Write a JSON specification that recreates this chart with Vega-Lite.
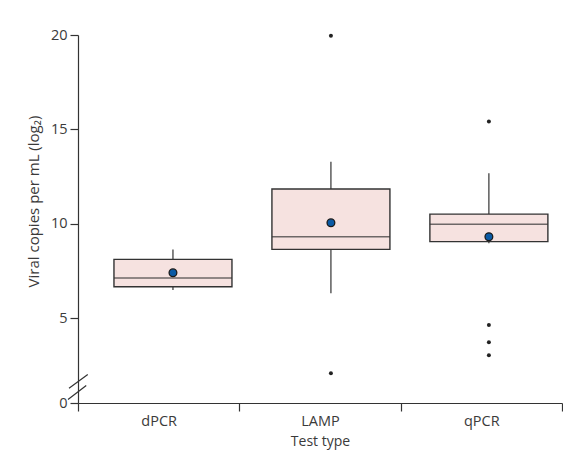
{
  "$schema": "https://vega.github.io/schema/vega-lite/v6.json",
  "width": 484,
  "height": 368,
  "autosize": {"type": "none"},
  "padding": {"left": 78, "top": 35, "right": 1, "bottom": 59},
  "background": "white",
  "datasets": {
    "summary": [
      {"test": "dPCR", "lower": 6.49, "q1": 6.66, "median": 7.12, "q3": 8.11, "upper": 8.64, "mean": 7.40},
      {"test": "LAMP", "lower": 6.31, "q1": 8.64, "median": 9.31, "q3": 11.84, "upper": 13.29, "mean": 10.05},
      {"test": "qPCR", "lower": 8.96, "q1": 9.05, "median": 9.97, "q3": 10.51, "upper": 12.67, "mean": 9.31}
    ],
    "outliers": [
      {"test": "LAMP", "value": 19.96},
      {"test": "LAMP", "value": 2.07},
      {"test": "qPCR", "value": 15.41},
      {"test": "qPCR", "value": 4.63},
      {"test": "qPCR", "value": 3.72},
      {"test": "qPCR", "value": 3.03}
    ]
  },
  "config": {
    "font": "Open Sans",
    "view": {"stroke": null},
    "axis": {
      "labelFont": "Open Sans",
      "titleFont": "Open Sans",
      "labelFontSize": 14.5,
      "titleFontSize": 14,
      "titleFontWeight": "normal",
      "labelColor": "#3a3a3a",
      "titleColor": "#3a3a3a",
      "domainColor": "#333333",
      "tickColor": "#333333",
      "domainWidth": 1.2,
      "tickWidth": 1.2,
      "tickSize": 8,
      "grid": false
    },
    "axisY": {"titleFontSize": 15, "titleY": 166}
  },
  "layer": [
    {
      "data": {"values": [{"label": "axis break"}]},
      "mark": {"type": "point", "shape": "M-0.72,0.1L0.78,-1M-0.8,1L0.66,-0.12", "size": 625, "filled": false, "stroke": "#333333", "strokeWidth": 1.2, "opacity": 1},
      "encoding": {
        "x": {
          "datum": "dPCR",
          "type": "nominal",
          "bandPosition": 0,
          "scale": {"type": "band", "domain": ["dPCR", "LAMP", "qPCR"], "paddingInner": 0, "paddingOuter": 0},
          "axis": {"title": "Test type", "labelAngle": 0, "tickBand": "extent", "labelPadding": 3, "titlePadding": 7}
        },
        "y": {
          "datum": 1.35,
          "type": "quantitative",
          "scale": {"domain": [0.5, 20], "nice": false, "zero": false},
          "axis": {"title": "Viral copies per mL (log₂)", "values": [0.5, 5, 10, 15, 20], "labelExpr": "datum.value < 1 ? '0' : datum.label", "labelPadding": 3, "titlePadding": 9}
        }
      }
    },
    {
      "data": {"name": "summary"},
      "mark": {"type": "rule", "color": "#333333", "strokeWidth": 1.2},
      "encoding": {
        "x": {"field": "test", "type": "nominal", "scale": {"type": "point", "domain": ["dPCR", "LAMP", "qPCR"], "padding": 0.532, "align": 0.565}, "axis": null},
        "y": {"field": "lower", "type": "quantitative", "scale": {"domain": [0.5, 20], "nice": false, "zero": false}, "axis": {"title": "Viral copies per mL (log₂)", "values": [0.5, 5, 10, 15, 20], "labelExpr": "datum.value < 1 ? '0' : datum.label", "labelPadding": 3, "titlePadding": 9}},
        "y2": {"field": "upper"}
      }
    },
    {
      "data": {"name": "summary"},
      "mark": {"type": "bar", "size": 118, "fill": "#f6e2e0", "stroke": "#333333", "strokeWidth": 1.4},
      "encoding": {
        "x": {"field": "test", "type": "nominal", "scale": {"type": "point", "domain": ["dPCR", "LAMP", "qPCR"], "padding": 0.532, "align": 0.565}, "axis": null},
        "y": {"field": "q1", "type": "quantitative", "scale": {"domain": [0.5, 20], "nice": false, "zero": false}, "axis": {"title": "Viral copies per mL (log₂)", "values": [0.5, 5, 10, 15, 20], "labelExpr": "datum.value < 1 ? '0' : datum.label", "labelPadding": 3, "titlePadding": 9}},
        "y2": {"field": "q3"}
      }
    },
    {
      "data": {"name": "summary"},
      "mark": {"type": "tick", "size": 118, "thickness": 1.6, "color": "#333333", "orient": "horizontal"},
      "encoding": {
        "x": {"field": "test", "type": "nominal", "scale": {"type": "point", "domain": ["dPCR", "LAMP", "qPCR"], "padding": 0.532, "align": 0.565}, "axis": null},
        "y": {"field": "median", "type": "quantitative", "scale": {"domain": [0.5, 20], "nice": false, "zero": false}, "axis": {"title": "Viral copies per mL (log₂)", "values": [0.5, 5, 10, 15, 20], "labelExpr": "datum.value < 1 ? '0' : datum.label", "labelPadding": 3, "titlePadding": 9}}
      }
    },
    {
      "data": {"name": "outliers"},
      "mark": {"type": "circle", "size": 16, "color": "#222222", "opacity": 1},
      "encoding": {
        "x": {"field": "test", "type": "nominal", "scale": {"type": "point", "domain": ["dPCR", "LAMP", "qPCR"], "padding": 0.532, "align": 0.565}, "axis": null},
        "y": {"field": "value", "type": "quantitative", "scale": {"domain": [0.5, 20], "nice": false, "zero": false}, "axis": {"title": "Viral copies per mL (log₂)", "values": [0.5, 5, 10, 15, 20], "labelExpr": "datum.value < 1 ? '0' : datum.label", "labelPadding": 3, "titlePadding": 9}}
      }
    },
    {
      "data": {"name": "summary"},
      "mark": {"type": "point", "filled": true, "size": 60, "fill": "#0a5aa5", "stroke": "#1a1a1a", "strokeWidth": 1.3, "opacity": 1},
      "encoding": {
        "x": {"field": "test", "type": "nominal", "scale": {"type": "point", "domain": ["dPCR", "LAMP", "qPCR"], "padding": 0.532, "align": 0.565}, "axis": null},
        "y": {"field": "mean", "type": "quantitative", "scale": {"domain": [0.5, 20], "nice": false, "zero": false}, "axis": {"title": "Viral copies per mL (log₂)", "values": [0.5, 5, 10, 15, 20], "labelExpr": "datum.value < 1 ? '0' : datum.label", "labelPadding": 3, "titlePadding": 9}}
      }
    }
  ],
  "resolve": {"scale": {"x": "independent"}, "axis": {"x": "independent"}}
}
